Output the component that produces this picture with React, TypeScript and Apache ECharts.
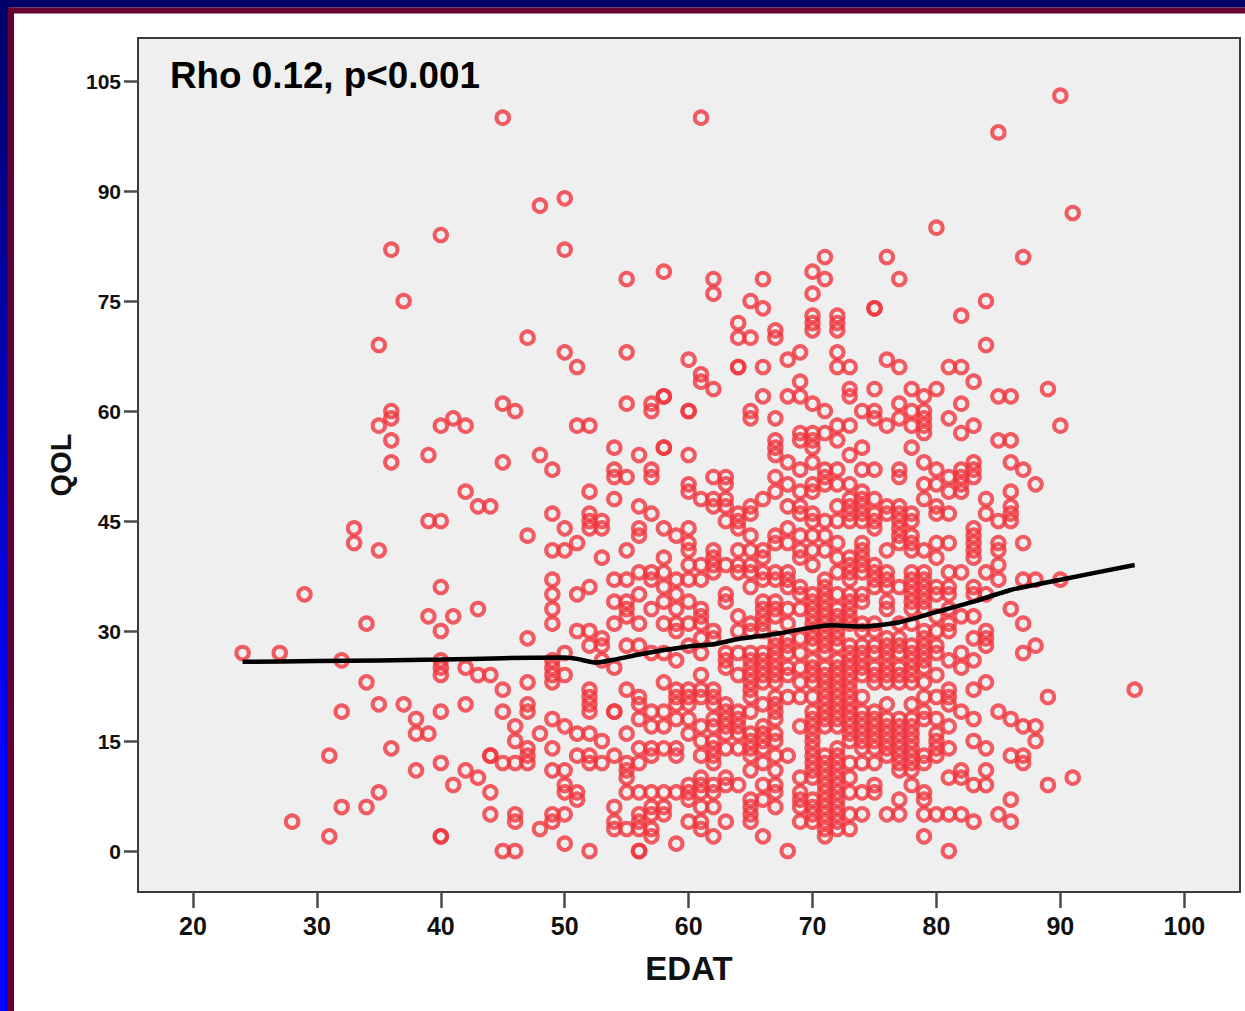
import React, { useEffect, useRef } from "react";
import * as echarts from "echarts";

const xTicks = [20, 30, 40, 50, 60, 70, 80, 90, 100];
const yTicks = [0, 15, 30, 45, 60, 75, 90, 105];
const annotation = "Rho 0.12, p<0.001";

const young: [number, number[]][] = [
  [24, [27]], [27, [27]], [28, [4]], [29, [35]], [31, [13, 2]], [32, [26, 19, 6]],
  [33, [44, 42]], [34, [31, 23, 6]], [35, [69, 58, 41, 20, 8]], [36, [82, 60, 59, 56, 53, 14]],
  [37, [75, 20]], [38, [18, 16, 11]], [39, [54, 45, 32, 16]],
  [40, [84, 58, 45, 36, 30, 26, 25, 24, 19, 12, 2, 2]], [41, [59, 32, 9]],
  [42, [58, 49, 25, 20, 11]], [43, [47, 33, 24, 10]], [44, [47, 24, 13, 13, 8, 5]],
  [45, [100, 61, 53, 22, 19, 12, 0]], [46, [60, 17, 15, 12, 5, 4, 0]],
  [47, [70, 43, 29, 23, 20, 19, 14, 13, 12]], [48, [88, 54, 16, 3]],
  [49, [52, 46, 41, 37, 35, 33, 31, 26, 25, 24, 23, 18, 14, 11, 5, 4]],
];
const middle: [number, number[]][] = [
  [50, [89, 82, 68, 44, 41, 27, 24, 17, 11, 9, 8, 5, 1]],
  [51, [66, 58, 42, 35, 30, 16, 13, 8, 7]],
  [52, [58, 49, 46, 45, 44, 36, 30, 28, 22, 21, 20, 19, 16, 13, 12, 0]],
  [53, [45, 44, 40, 29, 28, 26, 15, 12]],
  [54, [55, 52, 51, 48, 37, 34, 31, 25, 19, 19, 13, 6, 4, 3]],
  [55, [78, 68, 61, 51, 41, 37, 34, 33, 32, 28, 22, 16, 12, 11, 10, 8, 3]],
  [56, [54, 47, 44, 43, 38, 35, 31, 28, 21, 20, 18, 14, 12, 8, 5, 4, 3, 0, 0]],
  [57, [61, 60, 52, 51, 46, 38, 37, 33, 27, 19, 17, 14, 13, 8, 6, 5, 3, 2]],
  [58, [79, 62, 62, 55, 55, 44, 40, 38, 36, 34, 31, 27, 23, 19, 17, 14, 8, 6, 5]],
  [59, [43, 37, 35, 33, 31, 30, 26, 22, 21, 20, 18, 14, 13, 8, 1]],
  [60, [67, 60, 60, 54, 50, 49, 44, 42, 41, 39, 37, 34, 31, 28, 22, 21, 20, 18, 16, 9, 8, 7, 4]],
  [61, [100, 65, 64, 48, 39, 37, 33, 32, 31, 29, 27, 24, 22, 21, 17, 15, 13, 10, 9, 8, 6, 4, 3]],
  [62, [78, 76, 63, 51, 48, 47, 41, 40, 39, 38, 30, 29, 22, 21, 20, 18, 17, 15, 14, 13, 12, 9, 8, 6, 2]],
  [63, [51, 50, 48, 47, 45, 39, 35, 34, 27, 26, 25, 20, 19, 18, 17, 16, 14, 10, 9, 4]],
  [64, [72, 70, 66, 66, 46, 45, 44, 41, 39, 38, 32, 30, 27, 24, 19, 18, 17, 16, 14, 9]],
  [65, [75, 70, 60, 59, 47, 46, 43, 41, 39, 38, 36, 31, 30, 27, 26, 25, 24, 23, 22, 21, 19, 16, 15, 14, 13, 11, 7, 6, 5, 4]],
  [66, [78, 74, 66, 62, 48, 41, 40, 38, 37, 34, 33, 32, 31, 30, 27, 26, 25, 24, 23, 20, 17, 16, 15, 14, 12, 9, 7, 2]],
  [67, [71, 70, 59, 56, 55, 54, 51, 49, 43, 42, 38, 37, 34, 33, 32, 29, 28, 27, 26, 25, 24, 23, 21, 20, 19, 18, 16, 15, 13, 11, 9, 8, 6]],
  [68, [67, 62, 53, 50, 47, 44, 42, 38, 37, 36, 33, 31, 29, 28, 27, 25, 24, 21, 13, 0]],
  [69, [68, 64, 62, 57, 56, 52, 49, 47, 46, 43, 41, 40, 36, 35, 33, 29, 27, 25, 23, 21, 17, 10, 8, 7, 6, 4]],
];
const older: [number, number[]][] = [
  [70, [79, 76, 73, 72, 71, 61, 57, 56, 55, 53, 50, 49, 46, 45, 43, 41, 39, 35, 34, 33, 32, 31, 30, 29, 28, 26, 25, 24, 23, 21, 19, 18, 17, 16, 15, 14, 13, 12, 11, 10, 7, 6, 5, 4]],
  [71, [81, 78, 60, 57, 52, 51, 50, 45, 43, 41, 37, 36, 35, 34, 33, 32, 31, 30, 29, 28, 27, 25, 24, 23, 22, 21, 20, 19, 18, 17, 13, 12, 11, 10, 9, 8, 7, 6, 5, 4, 3, 2]],
  [72, [73, 72, 71, 68, 66, 58, 56, 52, 50, 47, 45, 42, 40, 38, 35, 33, 32, 31, 30, 29, 28, 26, 25, 24, 23, 22, 21, 20, 19, 18, 17, 14, 13, 12, 11, 10, 9, 8, 7, 6, 5, 4, 3]],
  [73, [66, 63, 62, 58, 54, 50, 48, 47, 46, 45, 40, 39, 38, 37, 35, 34, 33, 32, 31, 28, 27, 26, 25, 24, 23, 22, 21, 20, 19, 18, 17, 16, 15, 12, 10, 8, 5, 3]],
  [74, [60, 55, 52, 49, 48, 47, 46, 45, 42, 41, 40, 39, 38, 35, 34, 31, 30, 28, 27, 26, 25, 24, 21, 19, 18, 17, 16, 15, 14, 12, 8, 5]],
  [75, [74, 74, 63, 60, 59, 52, 48, 46, 45, 44, 39, 38, 37, 36, 31, 30, 28, 27, 25, 24, 23, 19, 18, 17, 16, 15, 14, 12, 9, 8]],
  [76, [81, 67, 58, 47, 46, 41, 38, 37, 36, 34, 33, 29, 28, 27, 26, 25, 24, 23, 20, 18, 17, 16, 15, 14, 13, 5]],
  [77, [78, 66, 61, 59, 52, 51, 47, 46, 45, 44, 43, 42, 36, 31, 29, 28, 27, 25, 24, 23, 18, 17, 16, 15, 14, 13, 12, 11, 7, 5]],
  [78, [63, 60, 58, 55, 46, 45, 43, 42, 41, 38, 37, 36, 35, 34, 33, 31, 28, 27, 26, 25, 24, 23, 20, 18, 17, 16, 15, 14, 13, 12, 11, 9]],
  [79, [62, 60, 59, 58, 57, 53, 50, 48, 41, 38, 37, 36, 35, 34, 33, 30, 29, 28, 27, 26, 25, 23, 21, 19, 18, 13, 12, 8, 7, 5, 2]],
  [80, [85, 63, 52, 50, 47, 46, 42, 40, 36, 35, 32, 30, 28, 27, 24, 21, 18, 16, 15, 14, 13, 5]],
  [81, [66, 59, 51, 49, 46, 42, 38, 36, 35, 33, 31, 30, 26, 22, 21, 20, 17, 14, 10, 5, 0]],
  [82, [73, 66, 61, 57, 52, 51, 50, 49, 38, 32, 27, 25, 19, 11, 10, 5]],
  [83, [64, 58, 53, 52, 51, 44, 43, 42, 41, 40, 36, 35, 32, 29, 26, 22, 18, 15, 9, 4]],
  [84, [75, 69, 48, 46, 38, 35, 30, 29, 28, 23, 14, 11, 9]],
  [85, [98, 62, 56, 45, 42, 41, 39, 37, 19, 5]],
  [86, [62, 56, 53, 49, 47, 46, 45, 33, 18, 13, 7, 4]],
  [87, [81, 52, 42, 37, 31, 27, 17, 13, 12]],
  [88, [50, 37, 28, 17, 15]],
  [89, [63, 21, 9]],
  [90, [103, 58, 37]],
  [91, [87, 10]],
  [96, [22]],
];
const fitLine: [number, number][] = [
  [24, 25.8], [30, 25.9], [40, 26.1], [45, 26.3], [50, 26.4], [51, 26.2], [52.5, 25.7], [54, 26.1],
  [56, 26.8], [58, 27.4], [60, 27.9], [62, 28.2], [64, 28.9], [67, 29.6], [70, 30.5], [71.5, 30.8],
  [74, 30.6], [77, 31.2], [80, 32.6], [83, 34], [86, 35.6], [90, 37], [96, 39],
];

const FONT = "'Liberation Sans', Arial, sans-serif";

export default function App() {
  const ref = useRef<HTMLDivElement>(null);
  useEffect(() => {
    const chart = echarts.init(ref.current!, undefined, { renderer: "svg" });
    const points = [...young, ...middle, ...older].flatMap(([age, vals]) =>
      vals.map((v) => [age, v])
    );
    chart.setOption({
      animation: false,
      backgroundColor: "#ffffff",
      grid: {
        left: 138, top: 38, width: 1102, height: 854, show: true,
        backgroundColor: "#efefef", borderColor: "#3a3a3a", borderWidth: 2,
      },
      xAxis: {
        type: "value", min: 15.56, max: 104.5, splitLine: { show: false },
        name: "EDAT", nameLocation: "middle", nameGap: 60,
        nameTextStyle: { fontFamily: FONT, fontWeight: "bold", fontSize: 33, color: "#111" },
        axisLine: { show: true, onZero: false, lineStyle: { color: "#3a3a3a", width: 2 } },
        axisTick: { show: true, length: 16, customValues: xTicks, lineStyle: { color: "#4a4a4a", width: 2.5 } },
        axisLabel: { customValues: xTicks, margin: 21, fontFamily: FONT, fontWeight: "bold", fontSize: 25, color: "#111" },
      },
      yAxis: {
        type: "value", min: -5.59, max: 110.87, splitLine: { show: false },
        name: "QOL", nameLocation: "middle", nameGap: 59, nameRotate: 90,
        nameTextStyle: { fontFamily: FONT, fontWeight: "bold", fontSize: 29, color: "#111" },
        axisLine: { show: true, onZero: false, lineStyle: { color: "#3a3a3a", width: 2 } },
        axisTick: { show: true, length: 14, customValues: yTicks, lineStyle: { color: "#4a4a4a", width: 2.5 } },
        axisLabel: { customValues: yTicks, margin: 17, padding: [0, 0, 2, 0], fontFamily: FONT, fontWeight: "bold", fontSize: 21, color: "#111" },
      },
      series: [
        {
          type: "scatter", data: points, symbol: "circle", symbolSize: 12.5,
          itemStyle: { color: "rgba(0,0,0,0)", borderColor: "#f0343c", borderWidth: 4 },
          z: 2,
        },
        {
          type: "line", data: fitLine, symbol: "none", smooth: 0.2,
          lineStyle: { color: "#000000", width: 4.5 }, z: 3,
        },
      ],
      graphic: [
        {
          type: "rect", z: 0, left: 0, top: 0,
          shape: { width: 1245, height: 7.5 },
          style: { fill: "#000066" },
        },
        {
          type: "rect", z: 0, left: 0, top: 0,
          shape: { width: 8, height: 1011 },
          style: {
            fill: new echarts.graphic.LinearGradient(0, 0, 0, 1, [
              { offset: 0, color: "#000066" },
              { offset: 0.75, color: "#0000ff" },
              { offset: 1, color: "#0000ff" },
            ]),
          },
        },
        {
          type: "rect", z: 1, left: 8, top: 7.5,
          shape: { width: 1237, height: 6 },
          style: { fill: "#660033" },
        },
        {
          type: "rect", z: 1, left: 8, top: 7.5,
          shape: { width: 6, height: 1003.5 },
          style: { fill: "#660033" },
        },
        {
          type: "text", z: 10, left: 170, top: 57,
          style: { text: annotation, fontFamily: FONT, fontWeight: "bold", fontSize: 36.8, fill: "#000" },
        },
      ],
    });
    return () => chart.dispose();
  }, []);
  return <div ref={ref} style={{ position: "absolute", left: 0, top: 0, width: 1245, height: 1011 }} />;
}
